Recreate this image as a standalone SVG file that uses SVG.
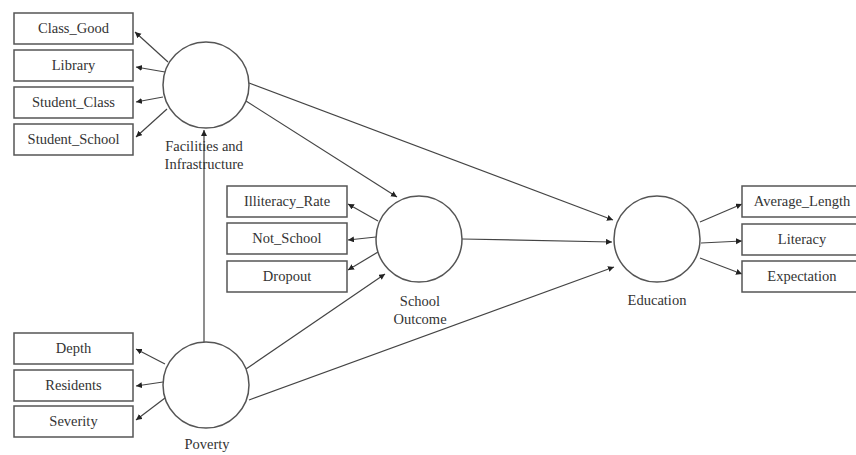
<svg xmlns="http://www.w3.org/2000/svg" width="856" height="455" viewBox="0 0 856 455">
<style>
.box{fill:#fff;stroke:#555;stroke-width:1.5}
.lv{fill:#fff;stroke:#555;stroke-width:1.5}
.t{font-family:'Liberation Serif','DejaVu Serif',serif;font-size:14.5px;fill:#333;text-anchor:middle}
.c{stroke:#444;stroke-width:1.2;fill:none;marker-end:url(#ah)}
</style>
<defs>
<marker id="ah" markerUnits="userSpaceOnUse" markerWidth="7" markerHeight="7" refX="6" refY="3" orient="auto">
<path d="M0,0 L6,3 L0,6 z" fill="#222"/>
</marker>
</defs>
<rect width="856" height="455" fill="#fff"/>
<g id="connectors">
<line class="c" x1="204" y1="342" x2="204" y2="130"/>
<line class="c" x1="246" y1="101" x2="397" y2="197"/>
<line class="c" x1="249" y1="83" x2="613" y2="220"/>
<line class="c" x1="462" y1="239" x2="612" y2="242"/>
<line class="c" x1="246" y1="369" x2="385" y2="274"/>
<line class="c" x1="249" y1="400" x2="614" y2="267"/>
<line class="c" x1="168" y1="62" x2="135" y2="32"/>
<line class="c" x1="165" y1="72" x2="136" y2="67"/>
<line class="c" x1="163" y1="97" x2="136" y2="102"/>
<line class="c" x1="167" y1="109" x2="136" y2="137"/>
<line class="c" x1="378" y1="221" x2="348" y2="204"/>
<line class="c" x1="376" y1="237" x2="348" y2="240"/>
<line class="c" x1="378" y1="252" x2="348" y2="270"/>
<line class="c" x1="700" y1="222" x2="742" y2="204"/>
<line class="c" x1="701" y1="243" x2="742" y2="241"/>
<line class="c" x1="700" y1="258" x2="742" y2="274"/>
<line class="c" x1="165" y1="364" x2="136" y2="349"/>
<line class="c" x1="163" y1="382" x2="136" y2="386"/>
<line class="c" x1="165" y1="398" x2="136" y2="420"/>
</g>
<g id="facilities">
<circle class="lv" cx="206" cy="85" r="43"/>
<text class="t" x="204" y="151">Facilities and</text>
<text class="t" x="204" y="169">Infrastructure</text>
</g>
<g id="school_outcome">
<circle class="lv" cx="419" cy="239" r="43"/>
<text class="t" x="420" y="306">School</text>
<text class="t" x="420" y="324">Outcome</text>
</g>
<g id="education">
<circle class="lv" cx="657" cy="239" r="43"/>
<text class="t" x="657" y="305">Education</text>
</g>
<g id="poverty">
<circle class="lv" cx="206" cy="385" r="43"/>
<text class="t" x="207" y="449">Poverty</text>
</g>
<g id="class_good"><rect class="box" x="14" y="13" width="119" height="31"/><text class="t" x="73.5" y="33">Class_Good</text></g>
<g id="library"><rect class="box" x="14" y="50" width="119" height="31"/><text class="t" x="73.5" y="70">Library</text></g>
<g id="student_class"><rect class="box" x="14" y="87" width="119" height="31"/><text class="t" x="73.5" y="107">Student_Class</text></g>
<g id="student_school"><rect class="box" x="14" y="124" width="119" height="31"/><text class="t" x="73.5" y="144">Student_School</text></g>
<g id="illiteracy_rate"><rect class="box" x="227" y="186" width="120" height="31"/><text class="t" x="287" y="206">Illiteracy_Rate</text></g>
<g id="not_school"><rect class="box" x="227" y="223" width="120" height="31"/><text class="t" x="287" y="243">Not_School</text></g>
<g id="dropout"><rect class="box" x="227" y="261" width="120" height="31"/><text class="t" x="287" y="281">Dropout</text></g>
<g id="average_length"><rect class="box" x="742" y="186" width="120" height="31"/><text class="t" x="802" y="206">Average_Length</text></g>
<g id="literacy"><rect class="box" x="742" y="224" width="120" height="31"/><text class="t" x="802" y="244">Literacy</text></g>
<g id="expectation"><rect class="box" x="742" y="261" width="120" height="31"/><text class="t" x="802" y="281">Expectation</text></g>
<g id="depth"><rect class="box" x="14" y="333" width="119" height="31"/><text class="t" x="73.5" y="353">Depth</text></g>
<g id="residents"><rect class="box" x="14" y="370" width="119" height="31"/><text class="t" x="73.5" y="390">Residents</text></g>
<g id="severity"><rect class="box" x="14" y="406" width="119" height="31"/><text class="t" x="73.5" y="426">Severity</text></g>
</svg>
